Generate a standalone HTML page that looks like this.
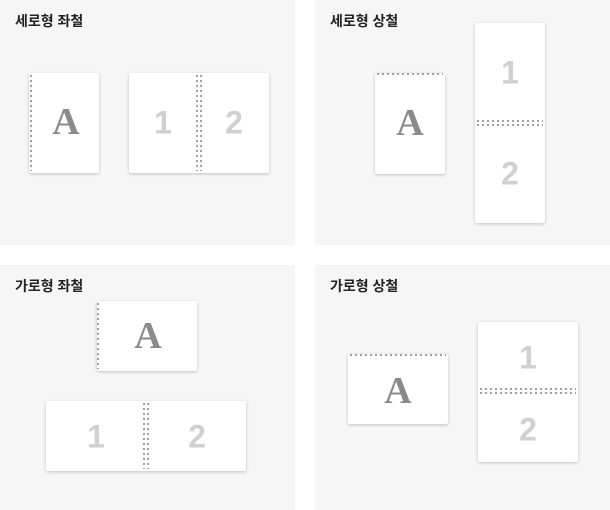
<!DOCTYPE html>
<html><head><meta charset="utf-8"><style>
body{margin:0;width:610px;height:510px;background:#fff;position:relative;overflow:hidden;font-family:"Liberation Sans","Noto Sans CJK KR",sans-serif}
.panel{position:absolute;background:#f6f6f6;width:295px;height:245px}
.title{position:absolute;left:15px;top:11px;font-size:14px;font-weight:bold;color:#222}
.page{position:absolute;background:#fff;border-radius:2px;box-shadow:0 1px 3px rgba(0,0,0,0.22)}
.A{position:absolute;font-family:"Liberation Serif",serif;font-weight:bold;color:#8a8a8a;font-size:38px;transform:translate(-50%,-50%)}
.n{position:absolute;font-weight:bold;color:#d0d0d0;font-size:32px;transform:translate(-50%,-50%)}
.dv{position:absolute;width:2px;background:repeating-linear-gradient(to bottom,#a0a0a0 0 2px,transparent 2px 5px)}
.dh{position:absolute;height:2px;background:repeating-linear-gradient(to right,#a0a0a0 0 2px,transparent 2px 5px)}
</style></head><body>
<div class="panel" style="left:0;top:0">
  <div class="title">세로형 좌철</div>
  <div class="page" style="left:29px;top:73px;width:70px;height:100px">
    <div class="dv" style="left:1px;top:2px;height:96px"></div>
    <div class="A" style="left:37px;top:49px">A</div>
  </div>
  <div class="page" style="left:129px;top:73px;width:140px;height:100px">
    <div class="dv" style="left:67px;top:2px;height:96px"></div>
    <div class="dv" style="left:71px;top:2px;height:96px"></div>
    <div class="n" style="left:34px;top:50px">1</div>
    <div class="n" style="left:105px;top:50px">2</div>
  </div>
</div>
<div class="panel" style="left:315px;top:0">
  <div class="title">세로형 상철</div>
  <div class="page" style="left:60px;top:73px;width:70px;height:101px">
    <div class="dh" style="top:0px;left:2px;width:66px"></div>
    <div class="A" style="left:35px;top:50px">A</div>
  </div>
  <div class="page" style="left:160px;top:23px;width:70px;height:200px">
    <div class="dh" style="top:97px;left:2px;width:66px"></div>
    <div class="dh" style="top:101px;left:2px;width:66px"></div>
    <div class="n" style="left:35px;top:50px">1</div>
    <div class="n" style="left:35px;top:151px">2</div>
  </div>
</div>
<div class="panel" style="left:0;top:265px">
  <div class="title">가로형 좌철</div>
  <div class="page" style="left:97px;top:36px;width:100px;height:70px">
    <div class="dv" style="left:0px;top:2px;height:66px"></div>
    <div class="A" style="left:51px;top:35px">A</div>
  </div>
  <div class="page" style="left:46px;top:136px;width:200px;height:70px">
    <div class="dv" style="left:97px;top:2px;height:66px"></div>
    <div class="dv" style="left:101px;top:2px;height:66px"></div>
    <div class="n" style="left:50px;top:36px">1</div>
    <div class="n" style="left:151px;top:36px">2</div>
  </div>
</div>
<div class="panel" style="left:315px;top:265px">
  <div class="title">가로형 상철</div>
  <div class="page" style="left:33px;top:89px;width:100px;height:70px">
    <div class="dh" style="top:0px;left:2px;width:96px"></div>
    <div class="A" style="left:50px;top:37px">A</div>
  </div>
  <div class="page" style="left:163px;top:57px;width:100px;height:140px">
    <div class="dh" style="top:66px;left:2px;width:96px"></div>
    <div class="dh" style="top:70px;left:2px;width:96px"></div>
    <div class="n" style="left:50px;top:36px">1</div>
    <div class="n" style="left:50px;top:108px">2</div>
  </div>
</div>
</body></html>
